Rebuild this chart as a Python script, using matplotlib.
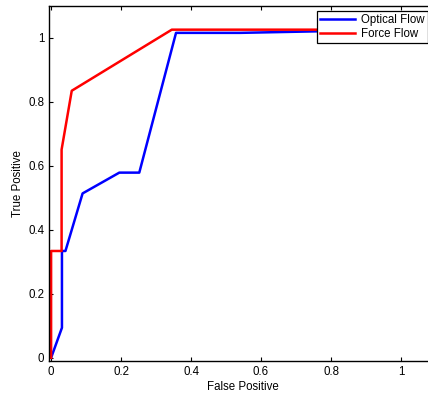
import matplotlib
matplotlib.use("Agg")
import matplotlib.pyplot as plt
from matplotlib.ticker import FormatStrFormatter

plt.rcParams['font.family'] = ['Liberation Sans', 'DejaVu Sans']

# ROC points
optical_fp = [0, 0.031, 0.031, 0.041, 0.09, 0.195, 0.252, 0.357, 0.54, 1.0]
optical_tp = [0, 0.094, 0.334, 0.334, 0.514, 0.579, 0.579, 1.016, 1.016, 1.026]

force_fp = [0, 0, 0.03, 0.03, 0.059, 0.345, 1.0]
force_tp = [0, 0.334, 0.334, 0.651, 0.835, 1.026, 1.026]

ticks = [0, 0.2, 0.4, 0.6, 0.8, 1]

fig = plt.figure(figsize=(4.28, 3.95), dpi=100)
ax = fig.add_axes([49/428, 34/395, 387/428, 355/395])

ax.plot(optical_fp, optical_tp, color='#0000ff', lw=1.8, label='Optical Flow')
ax.plot(force_fp, force_tp, color='#ff0000', lw=1.8, label='Force Flow')

ax.set_xlim(-0.006, 1.1)
ax.set_ylim(-0.01, 1.1)
ax.set_xticks(ticks)
ax.set_yticks(ticks)
ax.xaxis.set_major_formatter(FormatStrFormatter('%g'))
ax.yaxis.set_major_formatter(FormatStrFormatter('%g'))
ax.tick_params(direction='in', length=3, width=0.8, labelsize=8.3,
               top=True, right=True, colors='black')
for s in ax.spines.values():
    s.set_linewidth(1.0)

ax.set_xlabel('False Positive', fontsize=8.3, labelpad=2)
ax.set_ylabel('True Positive', fontsize=8.3, labelpad=3)

leg = ax.legend(loc='upper left', bbox_to_anchor=(317/428, 1 - 11/395),
                bbox_transform=fig.transFigure, borderaxespad=0,
                fontsize=8.3, fancybox=False, framealpha=1, edgecolor='black',
                handlelength=3.0, handletextpad=0.5, borderpad=0.3,
                labelspacing=0.1)
leg.get_frame().set_linewidth(0.9)

fig.savefig('out.png', dpi=100)
